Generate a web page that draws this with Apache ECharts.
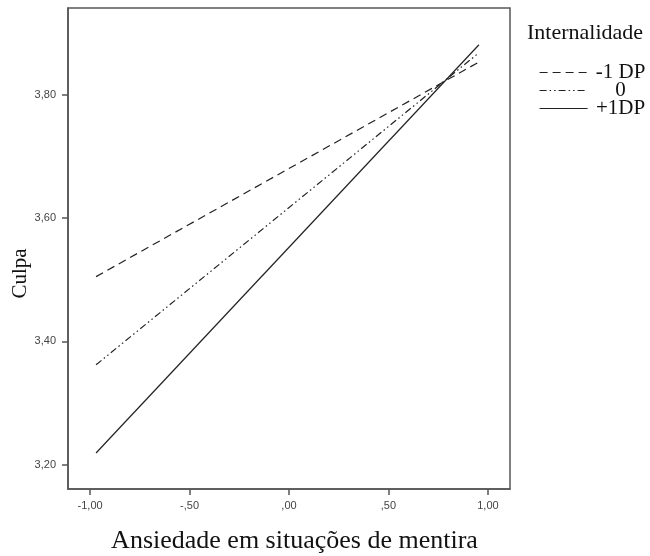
<!DOCTYPE html>
<html>
<head>
<meta charset="utf-8">
<script src="https://cdn.jsdelivr.net/npm/echarts@6/dist/echarts.min.js"></script>
<style>
  html, body { margin: 0; padding: 0; background: #fff; }
  #chart { width: 650px; height: 556px; }
</style>
</head>
<body>
<div id="chart"></div>
<script>
// dados
const xEnds = [-0.97, 0.955]
const menos1DP = [3.505, 3.853]
const zero = [3.362, 3.868]
const mais1DP = [3.219, 3.881]
const seriesNames = ['-1 DP', '0', '+1DP']
const xTicks = [-1, -0.5, 0, 0.5, 1]
const xTickLabels = ['-1,00', '-,50', ',00', ',50', '1,00']
const yTicks = [3.2, 3.4, 3.6, 3.8]
const yTickLabels = ['3,20', '3,40', '3,60', '3,80']

const serif = '"Liberation Serif", "DejaVu Serif", serif'
const sans = '"Liberation Sans", Arial, sans-serif'
const ink = '#222'

function pts(ys) {
  return xEnds.map((x, i) => [x, ys[i]])
}

function fmt(ticks, labels) {
  return v => {
    const i = ticks.findIndex(t => Math.abs(t - v) < 1e-6)
    return i >= 0 ? labels[i] : ''
  }
}

const chart = echarts.init(document.getElementById('chart'), null, { renderer: 'canvas' })

chart.setOption({
  backgroundColor: '#fff',
  animation: false,
  title: {
    text: 'Internalidade',
    left: 522, top: 17,
    textStyle: { fontFamily: serif, fontSize: 22, fontWeight: 'normal', color: '#111' },
  },
  legend: {
    orient: 'vertical',
    left: 534, top: 57,
    itemWidth: 48, itemHeight: 10, itemGap: -3,
    data: seriesNames,
    itemStyle: { opacity: 0 },
    lineStyle: { width: 1.2, color: ink },
    formatter: '{a|{name}}',
    textStyle: {
      color: '#111', fontFamily: serif, fontSize: 21,
      rich: { a: { fontFamily: serif, fontSize: 21, width: 56, align: 'center', color: '#111' } },
    },
  },
  grid: {
    left: 68, right: 140, top: 8, bottom: 67,
    outerBoundsMode: 'none',
    containLabel: false,
    show: true, borderColor: '#555', borderWidth: 1.5,
  },
  xAxis: {
    type: 'value',
    min: -1.111, max: 1.111,
    name: 'Ansiedade em situações de mentira',
    nameLocation: 'middle',
    nameGap: 39,
    nameMoveOverlap: false,
    nameTextStyle: { fontFamily: serif, fontSize: 26, color: '#111', padding: [0, 0, 0, 11] },
    axisLine: { onZero: false, lineStyle: { color: '#555', width: 1.5 } },
    axisTick: { show: true, customValues: xTicks, length: 6, lineStyle: { color: '#555', width: 1.5 } },
    axisLabel: {
      customValues: xTicks, formatter: fmt(xTicks, xTickLabels),
      fontFamily: sans, fontSize: 11, color: '#444', margin: 11,
    },
    splitLine: { show: false },
  },
  yAxis: {
    type: 'value',
    min: 3.1606, max: 3.9406,
    name: 'Culpa',
    nameLocation: 'middle',
    nameGap: 37,
    nameMoveOverlap: false,
    nameTextStyle: { fontFamily: serif, fontSize: 21, color: '#111', padding: [0, 50, 0, 0] },
    axisLine: { onZero: false, lineStyle: { color: '#555', width: 1.5 } },
    axisTick: { show: true, customValues: yTicks, length: 6, lineStyle: { color: '#555', width: 1.5 } },
    axisLabel: {
      customValues: yTicks, formatter: fmt(yTicks, yTickLabels),
      fontFamily: sans, fontSize: 11, color: '#444', margin: 12,
    },
    splitLine: { show: false },
  },
  series: [
    {
      name: seriesNames[0], type: 'line', data: pts(menos1DP), symbol: 'none',
      itemStyle: { color: ink },
      lineStyle: { color: ink, width: 1.2, type: [8, 5] },
    },
    {
      name: seriesNames[1], type: 'line', data: pts(zero), symbol: 'none',
      itemStyle: { color: ink },
      lineStyle: { color: ink, width: 1.2, type: [7, 3, 1.5, 3, 1.5, 3] },
    },
    {
      name: seriesNames[2], type: 'line', data: pts(mais1DP), symbol: 'none',
      itemStyle: { color: ink },
      lineStyle: { color: ink, width: 1.2, type: 'solid' },
    },
  ],
})
</script>
</body>
</html>
